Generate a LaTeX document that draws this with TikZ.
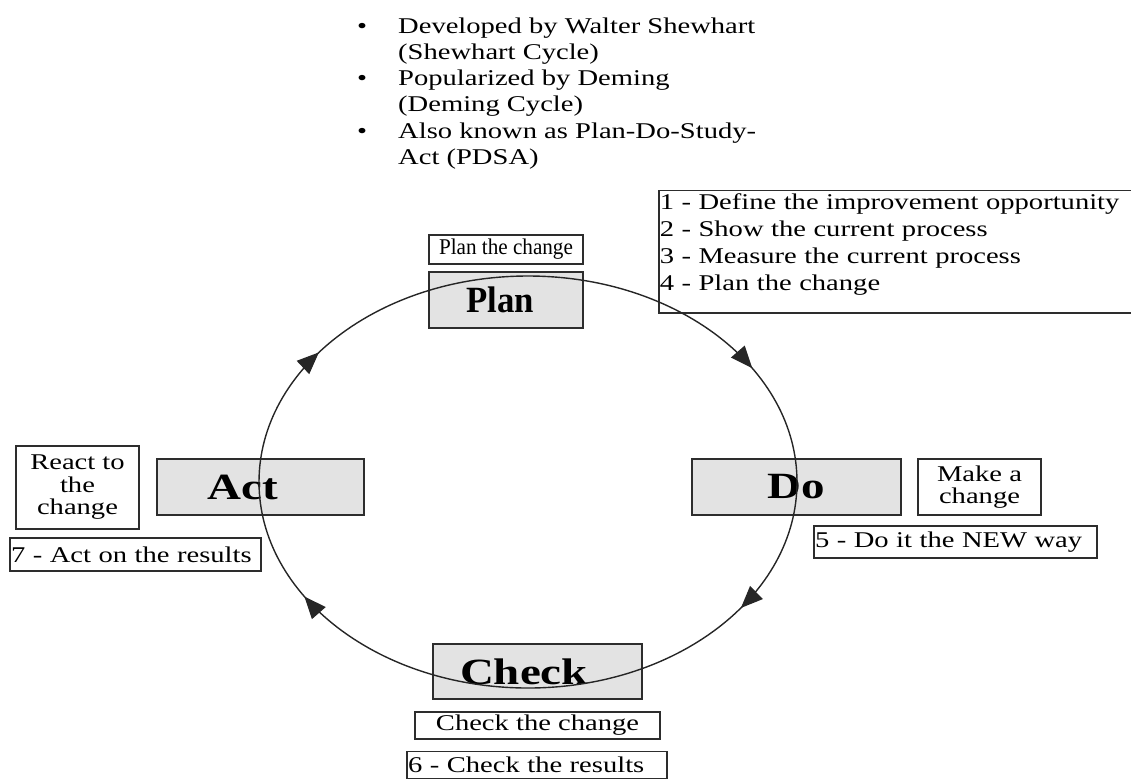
\documentclass[tikz,border=0pt]{standalone}
\usepackage{fontspec}
\setmainfont{Liberation Serif}[FakeStretch=1.27]
\newfontfamily\narrowfont{Liberation Serif}[FakeStretch=0.94]
\usetikzlibrary{arrows.meta,decorations.markings}

\definecolor{phasegray}{RGB}{227,227,227}
\definecolor{edgegray}{RGB}{45,45,45}

\newcommand\smalltxt{\fontsize{22.5}{22.5}\selectfont}
\newcommand\listtxt{\fontsize{22.5}{27}\selectfont}
\newcommand\headtxt{\fontsize{22.5}{26.2}\selectfont}
\newcommand\bigtxt{\fontsize{37}{37}\selectfont}

\begin{document}
\begin{tikzpicture}[x=1pt,y=-1pt,
  phase/.style={draw=edgegray, fill=phasegray, line width=1.5pt, inner sep=0pt,
    font=\bigtxt\bfseries},
  note/.style={draw=edgegray, fill=white, line width=1.5pt, inner sep=0pt,
    align=center, font=\smalltxt},
  stepbox/.style={draw=edgegray, fill=white, line width=1.5pt, inner xsep=1pt,
    inner ysep=0pt, align=left, font=\smalltxt},
  cycle tip/.tip={Triangle[length=22pt,width=18pt]}]

\clip (0,0) rectangle (1131,780);

% bullet list at the top
\node [anchor=north west, inner sep=0pt, align=left, font=\headtxt] (history) at (357,17.5)
  {\makebox[41pt][l]{\textbullet}Developed by Walter Shewhart\\
   \hspace*{41pt}(Shewhart Cycle)\\
   \makebox[41pt][l]{\textbullet}Popularized by Deming\\
   \hspace*{41pt}(Deming Cycle)\\
   \makebox[41pt][l]{\textbullet}Also known as Plan-Do-Study-\\
   \hspace*{41pt}Act (PDSA)};

% Plan
\node [note, font=\narrowfont\smalltxt, minimum width=154pt, minimum height=29pt] (plannote) at (506,249.5) {Plan the change};
\node [phase, font=\narrowfont\bigtxt\bfseries, minimum width=154pt, minimum height=56pt] (plan) at (506,300) {\hspace*{-12pt}Plan};
\node [stepbox, font=\listtxt, anchor=north west, inner ysep=3pt, text width=478pt, text depth=101pt] (planstep) at (658,189.5)
  {1 - Define the improvement opportunity\\
   2 - Show the current process\\
   3 - Measure the current process\\
   4 - Plan the change};

% Do
\node [phase, minimum width=209pt, minimum height=56pt] (do) at (796.5,487) {Do};
\node [note, minimum width=123pt, minimum height=56pt] (donote) at (979.5,487) {Make a\\change};
\node [stepbox, text width=281pt, minimum height=32pt] (dostep) at (955.5,542) {5 - Do it the NEW way};

% Check
\node [phase, minimum width=209pt, minimum height=55pt] (check) at (537.5,671.5) {\hspace*{-27pt}Check};
\node [note, minimum width=245pt, minimum height=27pt] (checknote) at (537.5,725.5) {Check the change};
\node [stepbox, text width=258pt, minimum height=27pt] (checkstep) at (537,765) {6 - Check the results};

% Act
\node [phase, minimum width=207pt, minimum height=56pt] (act) at (260.5,487) {\hspace*{-36pt}Act};
\node [note, minimum width=123pt, minimum height=83pt] (actnote) at (77.5,487.5) {React to\\the\\change};
\node [stepbox, text width=249pt, minimum height=33pt] (actstep) at (135.5,554.5) {7 - Act on the results};

% the cycle, clockwise
\draw [black!85, line width=1.4pt,
  postaction={decorate, decoration={markings,
    mark=at position 0.0945 with {\arrow{cycle tip}},
    mark=at position 0.416 with {\arrow{cycle tip}},
    mark=at position 0.598 with {\arrow{cycle tip}},
    mark=at position 0.9166 with {\arrow{cycle tip}}}}]
  (528,482) ellipse [x radius=269, y radius=206];

\end{tikzpicture}
\end{document}
